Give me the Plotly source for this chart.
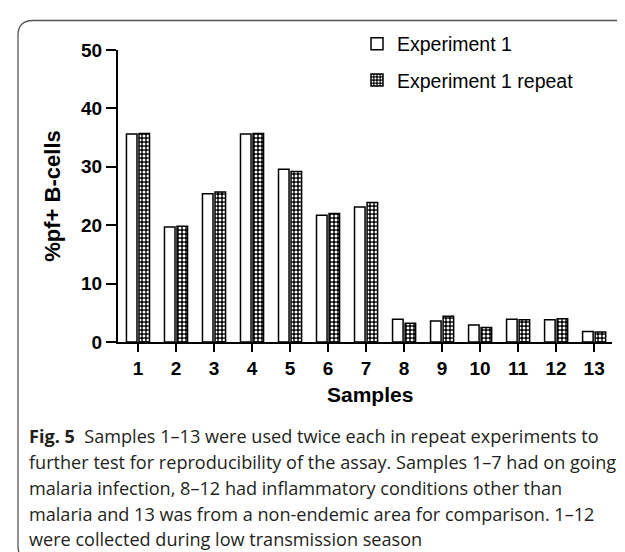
import plotly.graph_objects as go

samples = list(range(1, 14))
tick_labels = [str(s) for s in samples]
exp1 = [35.6, 19.7, 25.4, 35.6, 29.6, 21.7, 23.1, 3.9, 3.6, 2.9, 3.9, 3.8, 1.8]
exp1_repeat = [35.7, 19.8, 25.7, 35.7, 29.2, 22.0, 23.9, 3.2, 4.4, 2.5, 3.8, 4.0, 1.7]
series_names = ["Experiment 1", "Experiment 1 repeat"]
y_ticks = [0, 10, 20, 30, 40, 50]
caption_lines = [
    "<b>Fig. 5</b>  Samples 1–13 were used twice each in repeat experiments to",
    "further test for reproducibility of the assay. Samples 1–7 had on going",
    "malaria infection, 8–12 had inflammatory conditions other than",
    "malaria and 13 was from a non-endemic area for comparison. 1–12",
    "were collected during low transmission season",
]

W, H = 625, 552
ML, MR, MT, MB = 110, 21, 41.5, 218.3
PW = W - ML - MR
PH = H - MT - MB


def px(x):
    return (x - ML) / PW


def py(y):
    return (H - MB - y) / PH


FONT = "Liberation Sans, Arial, sans-serif"

fig = go.Figure()
fig.add_trace(go.Bar(
    x=samples, y=exp1, name=series_names[0], legendgroup="a",
    marker=dict(color="white", line=dict(color="black", width=1.5)),
))
fig.add_trace(go.Bar(
    x=samples, y=exp1_repeat, name=series_names[1], legendgroup="b",
    marker=dict(color="black", line=dict(color="black", width=1.5),
                pattern=dict(shape=".", bgcolor="black", fgcolor="white",
                             size=4, solidity=0.45, fillmode="replace")),
))

fig.update_layout(
    width=W, height=H,
    margin=dict(l=ML, r=MR, t=MT, b=MB, autoexpand=False),
    paper_bgcolor="white", plot_bgcolor="white",
    barmode="group", bargap=0.34, bargroupgap=0.16,
    font=dict(family=FONT, color="black"),
    showlegend=True,
    legend=dict(x=px(349), y=py(16), xanchor="left", yanchor="top",
                font=dict(size=19.5, family=FONT), tracegroupgap=8,
                bgcolor="rgba(0,0,0,0)"),
    xaxis=dict(range=[0.474, 13.47], tickmode="array", tickvals=samples,
               ticktext=tick_labels, showline=True, linecolor="black",
               linewidth=2, ticks="outside", ticklen=8, tickwidth=2,
               tickcolor="black", showgrid=False, zeroline=False,
               tickfont=dict(size=19, family=FONT, weight="bold")),
    yaxis=dict(range=[0, 50], tickvals=y_ticks, showline=True,
               linecolor="black", linewidth=2, ticks="outside", ticklen=10,
               tickwidth=2, tickcolor="black", showgrid=False, zeroline=False,
               tickfont=dict(size=19, family=FONT, weight="bold"),
               title=dict(text="%pf+ B-cells", standoff=14,
                          font=dict(size=22, family=FONT, weight="bold"))),
)

fig.add_annotation(text="<b>Samples</b>", xref="paper", yref="paper",
                   x=px(362), y=py(386), xanchor="center", yanchor="middle",
                   showarrow=False, font=dict(size=21, family=FONT))

line_y = [428, 454, 480, 506, 531]
for txt, yy in zip(caption_lines, line_y):
    fig.add_annotation(text=txt, xref="paper", yref="paper", x=px(19),
                       y=py(yy), xanchor="left", yanchor="middle",
                       showarrow=False,
                       font=dict(size=18.1, family="Open Sans", color="#231f20"))

# rounded frame (top and left edges visible)
r = 15
path = (f"M {px(W+5)},{py(12)} L {px(10+r)},{py(12)} "
        f"Q {px(10)},{py(12)} {px(10)},{py(12+r)} "
        f"L {px(10)},{py(553-r)} Q {px(10)},{py(553)} {px(10+r)},{py(553)}")
fig.add_shape(type="path", path=path, xref="paper", yref="paper",
              line=dict(color="#555555", width=1.3))

fig.write_html("out.html")
